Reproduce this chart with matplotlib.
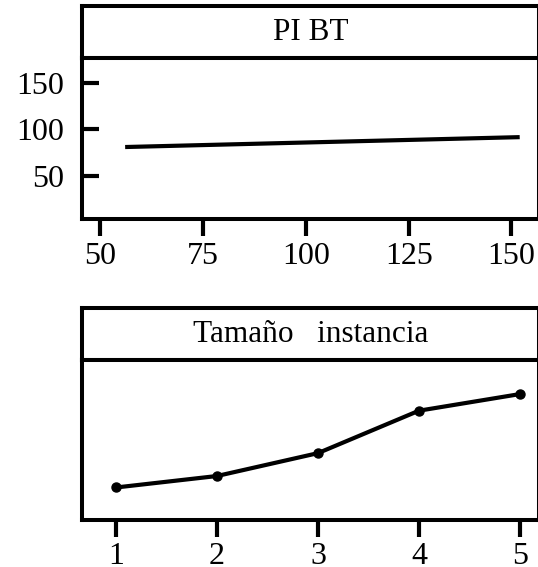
import matplotlib
matplotlib.use("Agg")
import matplotlib.pyplot as plt

# Data
pi_bt_x = [56, 152]
pi_bt_y = [81, 91.7]
tam_x = [1, 2, 3, 4, 5]
tam_y = [38.2, 50.7, 75.6, 121.8, 139.9]
top_xticks = [50, 75, 100, 125, 150]
top_yticks = [50, 100, 150]
strip_top = "PI BT"
strip_bottom = "Tamaño   instancia"

plt.rcParams['font.family'] = ['Liberation Serif', 'DejaVu Serif']
W, H = 538, 567
fig = plt.figure(figsize=(W / 100, H / 100), dpi=100)

def fx(px):
    return px / W

def fy(py):
    return 1 - py / H

LW = 2.9
left = fx(82.4)
right = fx(538.6)

def make_panel(strip_top_px, strip_bot_px, plot_bot_px, title):
    sax = fig.add_axes([left, fy(strip_bot_px), right - left, fy(strip_top_px) - fy(strip_bot_px)])
    sax.set_xticks([]); sax.set_yticks([])
    for s in sax.spines.values():
        s.set_linewidth(LW)
    sax.text(0.5, 0.5, title, ha='center', va='center', fontsize=22.5, transform=sax.transAxes)
    ax = fig.add_axes([left, fy(plot_bot_px), right - left, fy(strip_bot_px) - fy(plot_bot_px)])
    for s in ax.spines.values():
        s.set_linewidth(LW)
    return ax

ax1 = make_panel(6.0, 58.3, 219.3, strip_top)
ax1.plot(pi_bt_x, pi_bt_y, color='black', lw=3.0, solid_capstyle='butt')
ax1.set_xlim(45.6, 156.6)
ax1.set_ylim(2.8, 177)
ax1.set_xticks(top_xticks)
ax1.set_xticklabels([str(v) for v in top_xticks])
ax1.set_yticks(top_yticks)
ax1.set_yticklabels([str(v) for v in top_yticks])
ax1.tick_params(axis='x', direction='out', length=12, width=3, labelsize=23, pad=4)
ax1.tick_params(axis='y', direction='in', length=12, width=3, labelsize=23, pad=13)

ax2 = make_panel(308.3, 360.0, 520.0, strip_bottom)
ax2.plot(tam_x, tam_y, color='black', lw=3.0, marker='o', markersize=6.5)
ax2.set_xlim(0.667, 5.185)
ax2.set_ylim(2.8, 177)
ax2.set_xticks(tam_x)
ax2.set_xticklabels([str(v) for v in tam_x])
ax2.set_yticks([])
ax2.tick_params(axis='x', direction='out', length=12, width=3, labelsize=23, pad=4)

fig.savefig("out.png", dpi=100)
